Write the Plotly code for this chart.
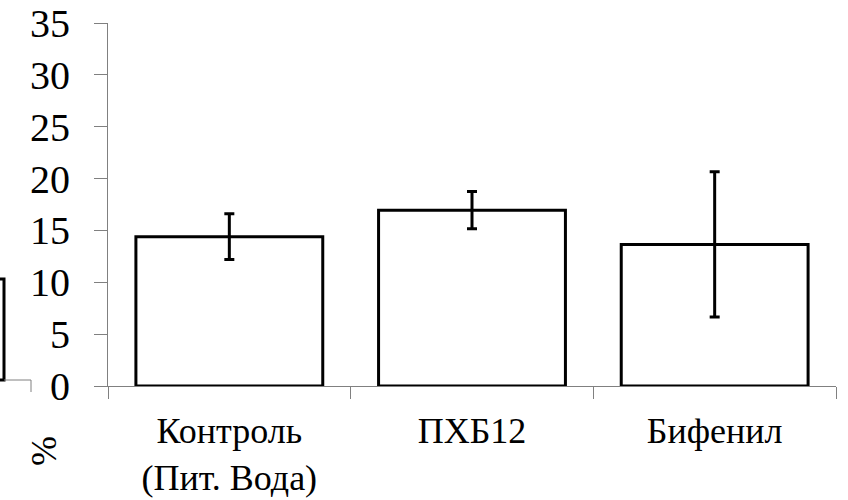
import plotly.graph_objects as go

categories = ["Контроль<br>(Пит. Вода)", "ПХБ12", "Бифенил"]
values = [14.4, 16.95, 13.65]
errors = [2.2, 1.8, 7.0]
y_ticks = [0, 5, 10, 15, 20, 25, 30, 35]

W, H = 848, 500
L, R, T, B = 108, 12, 23, 114
FONT = "Liberation Serif"

fig = go.Figure()
fig.add_trace(go.Bar(
    x=categories, y=values,
    marker=dict(color="white", line=dict(color="black", width=3)),
    error_y=dict(type="data", array=errors, visible=True,
                 color="black", thickness=3, width=5),
    showlegend=False,
))

def px_x(p):
    return (p - L) / (W - L - R)

def px_y(p):
    return (H - B - p) / (H - T - B)

# fragment of neighbouring chart at left edge
shapes = [
    dict(type="path", xref="paper", yref="paper",
         path=f"M {px_x(-2)},{px_y(279)} L {px_x(4)},{px_y(279)} L {px_x(4)},{px_y(380)} L {px_x(-2)},{px_y(380)}",
         line=dict(color="black", width=3)),
    dict(type="line", xref="paper", yref="paper",
         x0=px_x(4), x1=px_x(31), y0=px_y(380), y1=px_y(380),
         line=dict(color="#808080", width=1)),
    dict(type="line", xref="paper", yref="paper",
         x0=px_x(31), x1=px_x(31), y0=px_y(380), y1=px_y(392),
         line=dict(color="#808080", width=1)),
]

fig.update_layout(
    width=W, height=H,
    margin=dict(l=L, r=R, t=T, b=B, pad=0, autoexpand=False),
    paper_bgcolor="white", plot_bgcolor="white",
    bargap=0.23,
    font=dict(family=FONT, color="black"),
    shapes=shapes,
    xaxis=dict(
        automargin=False,
        showline=True, linecolor="#808080", linewidth=1,
        ticks="outside", tickson="boundaries", ticklen=12,
        tickcolor="#808080", tickwidth=1,
        tickfont=dict(family=FONT, size=36, color="black"),
        showgrid=False, zeroline=False,
        ticklabelstandoff=13,
    ),
    yaxis=dict(
        automargin=False,
        range=[0, 35], tickvals=y_ticks,
        showline=True, linecolor="#808080", linewidth=1,
        ticks="outside", ticklen=13, tickcolor="#808080", tickwidth=1,
        tickfont=dict(family=FONT, size=40, color="black"),
        showgrid=False, zeroline=False,
        ticklabelstandoff=16,
    ),
    annotations=[dict(
        text="%", xref="paper", yref="paper",
        x=px_x(44), y=px_y(451), textangle=-90, showarrow=False,
        font=dict(family=FONT, size=36, color="black"),
        xanchor="center", yanchor="middle",
    )],
)

fig.write_html(
    "out.html",
    config={"displayModeBar": False},
    post_script="document.body.style.margin='0';document.body.style.overflow='hidden';",
)
